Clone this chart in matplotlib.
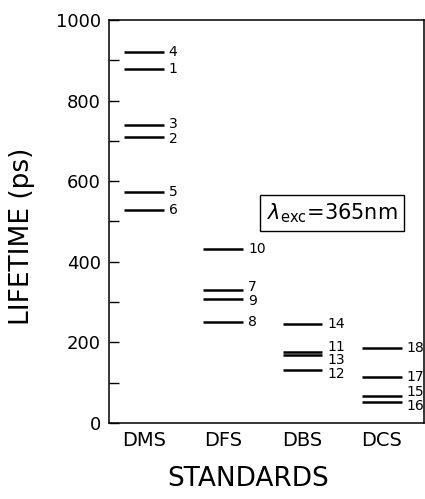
import matplotlib
matplotlib.use("Agg")
import matplotlib.pyplot as plt

categories = ["DMS", "DFS", "DBS", "DCS"]
# sample numbers, category index, lifetime (ps)
sample_ids = [1, 2, 3, 4, 5, 6, 7, 8, 9, 10, 11, 12, 13, 14, 15, 16, 17, 18]
sample_cat = [0, 0, 0, 0, 0, 0, 1, 1, 1, 1, 2, 2, 2, 2, 3, 3, 3, 3]
lifetimes = [878, 710, 739, 920, 573, 529, 329, 251, 307, 431,
             175, 131, 168, 246, 68, 53, 114, 186]
yticks = [0, 200, 400, 600, 800, 1000]
xlabel = "STANDARDS"
ylabel = "LIFETIME (ps)"
note = r"$\lambda_{\rm exc}$=365nm"

# style: vertical label offsets in points (to avoid overlapping labels)
label_dy = {2: -1.5, 3: 0.5, 7: 2.5, 9: -1.5, 11: 4, 13: -3.5, 12: -3,
            15: 2.5, 16: -3}

plt.rcParams['font.family'] = ['DejaVu Sans']
fig = plt.figure(figsize=(4.25, 4.99), dpi=100)
ax = fig.add_axes([109/425, 1-423/499, 315/425, 403/499])

half = 0.25
for sid, c, v in zip(sample_ids, sample_cat, lifetimes):
    ax.hlines(v, c - half, c + half, color='black', lw=1.8)
    ax.annotate(str(sid), xy=(c + half, v), xytext=(3.5, label_dy.get(sid, 0)),
                textcoords='offset points', ha='left', va='center',
                fontsize=10, color='black')

ax.set_xlim(-0.44, 3.53)
ax.set_ylim(0, 1000)
ax.set_yticks(yticks)
ax.set_yticks(range(100, 1000, 200), minor=True)
ax.set_xticks(range(len(categories)))
ax.set_xticklabels(categories, fontsize=14)
ax.tick_params(axis='y', which='both', direction='in', length=7, width=1,
               labelsize=13, pad=6)
ax.tick_params(axis='x', length=0, pad=6)
for s in ax.spines.values():
    s.set_linewidth(1.1)

ax.set_ylabel(ylabel, fontsize=19)
ax.yaxis.label.set_va('center')
ax.yaxis.set_label_coords(-0.276, 0.464)
ax.set_xlabel(xlabel, fontsize=19)
ax.xaxis.label.set_va('center')
ax.xaxis.set_label_coords(0.441, -0.139)

ax.text(0.708, 0.521, note, transform=ax.transAxes, ha='center', va='center',
        fontsize=15,
        bbox=dict(boxstyle='square,pad=0.3', facecolor='white',
                  edgecolor='black', linewidth=1))

fig.savefig("out.png", dpi=100)
